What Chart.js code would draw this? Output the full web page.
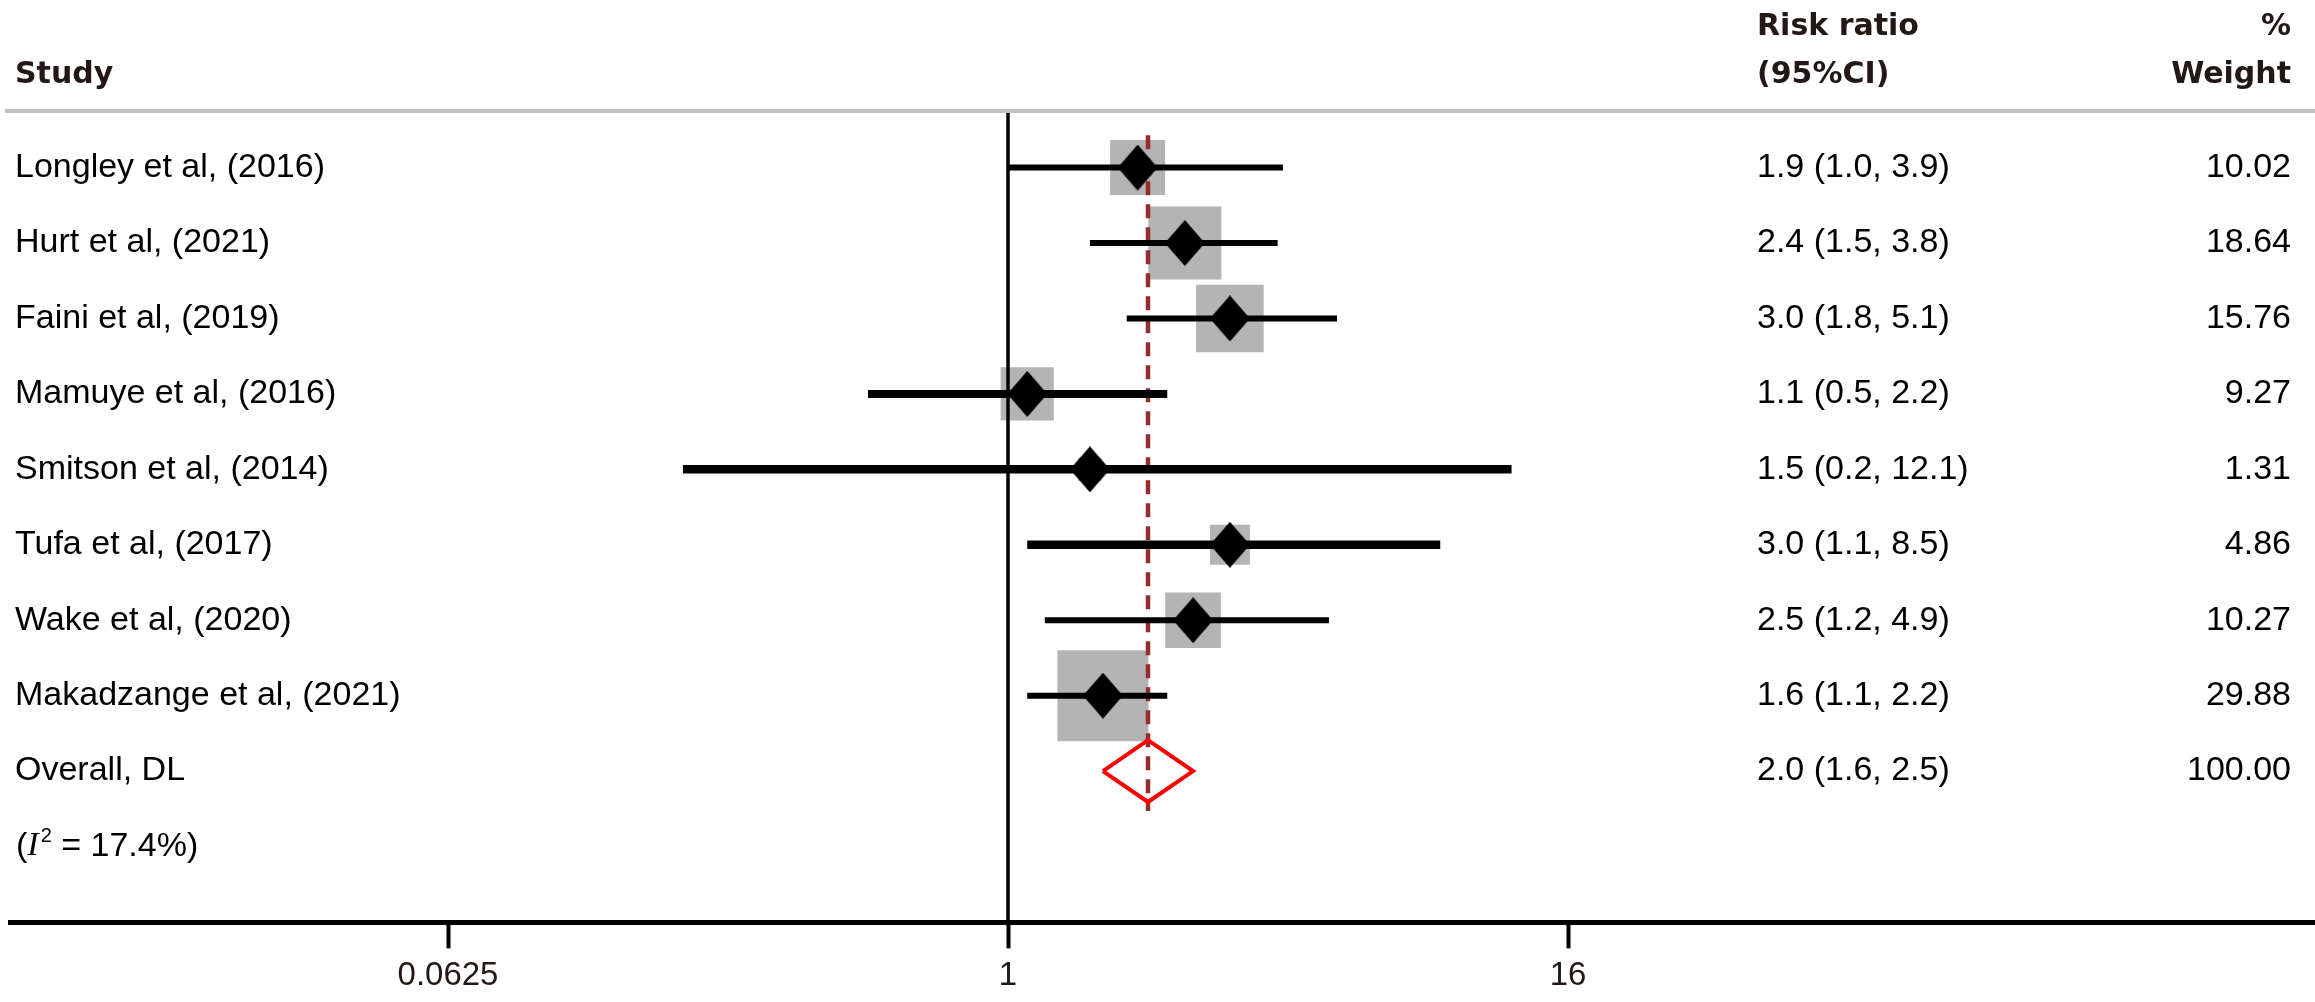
<!DOCTYPE html>
<html>
<head>
<meta charset="utf-8">
<title>Forest plot - risk ratio</title>
<script src="https://cdn.jsdelivr.net/npm/chart.js@4.4.0/dist/chart.umd.min.js"></script>
<style>
html,body{margin:0;padding:0;background:#fff;}
canvas{display:block;}
</style>
</head>
<body>
<canvas id="forest" width="2315" height="1002"></canvas>
<script>
// study data
var studies = ['Longley et al, (2016)', 'Hurt et al, (2021)', 'Faini et al, (2019)', 'Mamuye et al, (2016)',
               'Smitson et al, (2014)', 'Tufa et al, (2017)', 'Wake et al, (2020)', 'Makadzange et al, (2021)'];
var rr     = [1.9, 2.4, 3.0, 1.1, 1.5, 3.0, 2.5, 1.6];
var ciLow  = [1.0, 1.5, 1.8, 0.5, 0.2, 1.1, 1.2, 1.1];
var ciHigh = [3.9, 3.8, 5.1, 2.2, 12.1, 8.5, 4.9, 2.2];
var weights = [10.02, 18.64, 15.76, 9.27, 1.31, 4.86, 10.27, 29.88];

var overallLabel = 'Overall, DL';
var overallRR = 2.0, overallLow = 1.6, overallHigh = 2.5, overallWeight = 100.00;
var i2 = 17.4;
var xTicks = [0.0625, 1, 16];

// layout
var yMin = -0.724, yMax = 10.006;
var overallRow = studies.length, i2Row = studies.length + 1;
var ciWidths = [6, 6, 6, 8, 8.5, 8.5, 6, 6];
var boxRadius = weights.map(function(w){ return (15.64 * Math.sqrt(w) + 5.5) / Math.SQRT2; });

var diamond = document.createElement('canvas');
diamond.width = 40; diamond.height = 46;
var dc = diamond.getContext('2d');
dc.fillStyle = '#000';
dc.beginPath(); dc.moveTo(20, 0); dc.lineTo(40, 23); dc.lineTo(20, 46); dc.lineTo(0, 23); dc.closePath(); dc.fill();

var points = rr.map(function(v, i){ return {x: v, y: i}; });

var datasets = [];
datasets.push({data: points, pointStyle: diamond, pointRadius: 20, order: 0});
studies.forEach(function(s, i){
  datasets.push({data: [{x: ciLow[i], y: i}, {x: ciHigh[i], y: i}], showLine: true,
    borderColor: '#000', borderWidth: ciWidths[i], pointRadius: 0, borderCapStyle: 'butt', order: 1});
});
datasets.push({data: [{x: overallLow, y: overallRow}, {x: overallRR, y: overallRow - 0.41},
                      {x: overallHigh, y: overallRow}, {x: overallRR, y: overallRow + 0.41},
                      {x: overallLow, y: overallRow}],
  showLine: true, borderColor: '#ff0000', borderWidth: 4, pointRadius: 0, borderJoinStyle: 'miter', fill: false, order: 2});
datasets.push({data: [{x: overallRR, y: -0.43}, {x: overallRR, y: 8.53}], showLine: true,
  borderColor: '#962d2d', borderWidth: 4.5, borderDash: [14, 9], pointRadius: 0, order: 3});
datasets.push({data: [{x: 1, y: yMin}, {x: 1, y: yMax}], showLine: true,
  borderColor: '#000', borderWidth: 3.5, pointRadius: 0, order: 4});
datasets.push({data: points, pointStyle: 'rect', pointRadius: boxRadius,
  backgroundColor: '#b4b4b4', borderWidth: 0, order: 5});

var textPlugin = {
  id: 'forestText',
  afterDraw: function(chart){
    var ctx = chart.ctx, ys = chart.scales.y;
    ctx.save();
    ctx.fillStyle = '#c0c0c0';
    ctx.fillRect(5, 109, 2310, 4);

    ctx.fillStyle = '#231815';
    ctx.font = 'bold 30px "DejaVu Sans"';
    ctx.textBaseline = 'alphabetic';
    ctx.textAlign = 'left';
    ctx.fillText('Study', 15, 83);
    ctx.fillText('Risk ratio', 1757, 35);
    ctx.fillText('(95%CI)', 1757, 83);
    ctx.textAlign = 'right';
    ctx.fillText('%', 2291, 35);
    ctx.fillText('Weight', 2291, 83);

    ctx.fillStyle = '#000';
    ctx.font = '34px "Liberation Sans"';
    ctx.textBaseline = 'middle';
    var row = function(label, est, lo, hi, w, i){
      var y = ys.getPixelForValue(i);
      ctx.textAlign = 'left';
      ctx.fillText(label, 15, y);
      ctx.fillText(est.toFixed(1) + ' (' + lo.toFixed(1) + ', ' + hi.toFixed(1) + ')', 1757, y);
      ctx.textAlign = 'right';
      ctx.fillText(w.toFixed(2), 2291, y);
    };
    studies.forEach(function(s, i){ row(s, rr[i], ciLow[i], ciHigh[i], weights[i], i); });
    row(overallLabel, overallRR, overallLow, overallHigh, overallWeight, overallRow);

    // (I^2 = 17.4%)
    var y = ys.getPixelForValue(i2Row), x = 16;
    ctx.textAlign = 'left';
    ctx.fillText('(', x, y); x += ctx.measureText('(').width;
    ctx.font = 'italic 34px "Liberation Serif"';
    ctx.fillText('I', x, y); x += ctx.measureText('I').width + 2;
    ctx.font = '20px "Liberation Sans"';
    ctx.fillText('2', x, y - 10); x += ctx.measureText('2').width;
    ctx.font = '34px "Liberation Sans"';
    ctx.fillText(' = ' + i2.toFixed(1) + '%)', x, y);
    ctx.restore();
  }
};

new Chart(document.getElementById('forest'), {
  type: 'scatter',
  data: {datasets: datasets},
  options: {
    responsive: false,
    devicePixelRatio: 1,
    animation: false,
    layout: {autoPadding: false, padding: {top: 113, left: 10, right: 0, bottom: -2}},
    plugins: {legend: {display: false}, tooltip: {enabled: false}},
    scales: {
      x: {
        type: 'logarithmic',
        min: Math.pow(2, (10 - 1008) / 140),
        max: Math.pow(2, (2315 - 1008) / 140),
        afterBuildTicks: function(ax){ ax.ticks = xTicks.map(function(v){ return {value: v}; }); },
        ticks: {autoSkip: false, maxRotation: 0, padding: 8, color: '#231815',
                font: {family: 'Liberation Sans', size: 33},
                callback: function(v){ return String(v); }},
        grid: {drawOnChartArea: false, drawTicks: true, tickLength: 26, tickWidth: 4, tickColor: '#000'},
        border: {display: true, color: '#000', width: 5}
      },
      y: {type: 'linear', reverse: true, min: yMin, max: yMax, display: false}
    }
  },
  plugins: [textPlugin]
});
</script>
</body>
</html>
